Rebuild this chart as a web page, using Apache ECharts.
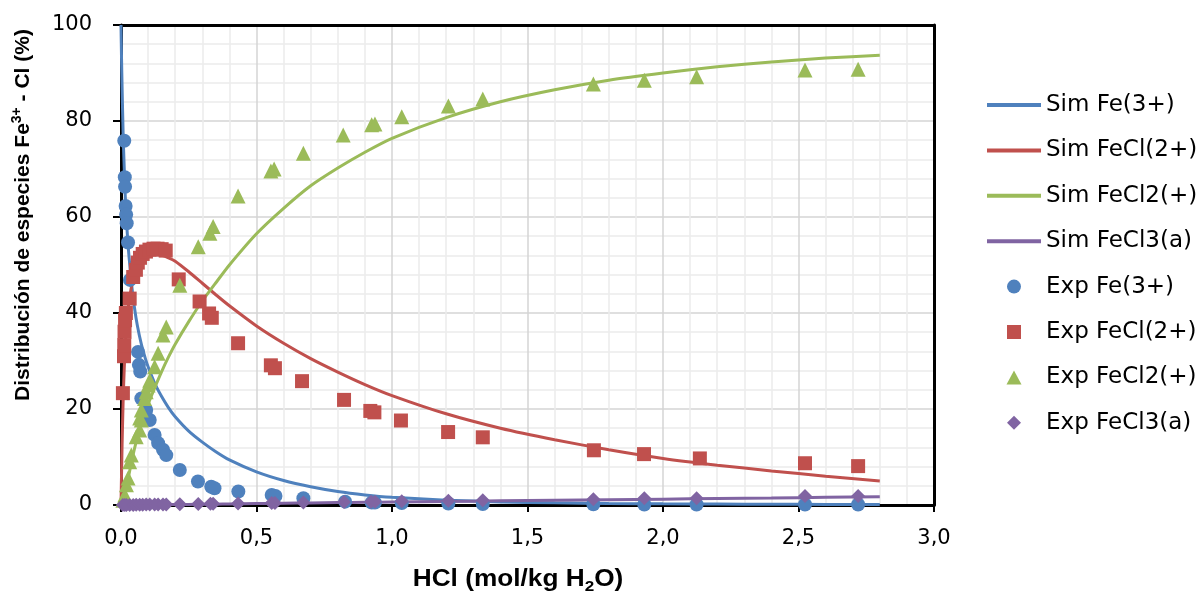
<!DOCTYPE html>
<html>
<head>
<meta charset="utf-8">
<script src="https://cdn.jsdelivr.net/npm/echarts@6/dist/echarts.min.js"></script>
<style>
  html, body { margin: 0; padding: 0; background: #fff; }
  #chart { width: 1204px; height: 605px; }
</style>
</head>
<body>
<div id="chart"></div>
<script>
// Simulated speciation (% of Fe3+) versus HCl molality
const simHCl = [0, 0.002, 0.004, 0.008, 0.012, 0.016, 0.02, 0.025, 0.03, 0.04, 0.05, 0.06, 0.075, 0.09, 0.1, 0.125, 0.15, 0.175, 0.2, 0.25, 0.3, 0.35, 0.4, 0.5, 0.6, 0.7, 0.8, 0.9, 1.0, 1.2, 1.4, 1.6, 1.8, 2.0, 2.2, 2.4, 2.6, 2.8];
const simFe3   = [100, 93, 87, 77, 70, 64, 59.5, 55, 51.5, 45.5, 41, 37.5, 33.5, 30.5, 28.8, 25.3, 22.6, 20.3, 18.4, 15.4, 13.1, 11.1, 9.4, 6.9, 5.1, 3.8, 2.8, 2.1, 1.6, 1.0, 0.65, 0.45, 0.32, 0.25, 0.2, 0.16, 0.13, 0.11];
const simFeCl  = [0, 6.5, 12.5, 22, 28.5, 33.5, 37, 40.2, 42.5, 45.8, 47.8, 49.3, 50.7, 51.5, 51.8, 52.1, 52.0, 51.5, 50.8, 48.6, 46.2, 43.8, 41.5, 37.3, 33.7, 30.5, 27.7, 25.1, 22.8, 19.0, 16.0, 13.6, 11.5, 9.7, 8.3, 7.1, 6.0, 5.0];
const simFeCl2 = [0, 0.07, 0.25, 0.8, 1.6, 2.6, 3.7, 5.1, 6.5, 9.3, 11.8, 14.0, 17.0, 19.5, 21.0, 24.5, 27.8, 30.8, 33.5, 38.2, 42.5, 46.3, 50.0, 56.5, 61.8, 66.5, 70.2, 73.5, 76.4, 80.7, 84.0, 86.5, 88.5, 90.0, 91.3, 92.3, 93.1, 93.7];
const simFeCl3 = [0, 0, 0, 0, 0, 0, 0, 0, 0.01, 0.01, 0.02, 0.02, 0.03, 0.04, 0.05, 0.06, 0.07, 0.08, 0.1, 0.12, 0.15, 0.18, 0.22, 0.3, 0.37, 0.44, 0.5, 0.56, 0.62, 0.74, 0.86, 0.98, 1.1, 1.22, 1.34, 1.45, 1.6, 1.73];

// Experimental points: [HCl molality, % of species]
const expFe3 = [[0.012,75.9],[0.014,68.3],[0.015,66.3],[0.017,62.3],[0.019,60.5],[0.021,58.7],[0.026,54.7],[0.033,46.9],[0.063,31.9],[0.066,29.2],[0.071,27.8],[0.075,22.2],[0.093,19.8],[0.106,17.7],[0.124,14.6],[0.137,12.9],[0.155,11.5],[0.167,10.4],[0.217,7.3],[0.284,4.9],[0.333,3.8],[0.345,3.5],[0.433,2.8],[0.556,2.1],[0.570,1.9],[0.673,1.4],[0.827,0.7],[0.925,0.5],[0.937,0.5],[1.036,0.4],[1.208,0.3],[1.335,0.2],[1.743,0.15],[1.931,0.1],[2.124,0.1],[2.524,0.1],[2.720,0.1]];
const expFeCl = [[0.007,23.3],[0.011,31.0],[0.012,33.3],[0.013,36.1],[0.015,38.5],[0.018,40.0],[0.032,43.0],[0.045,47.5],[0.055,49.0],[0.062,50.5],[0.070,51.5],[0.080,52.3],[0.092,52.8],[0.105,53.2],[0.120,53.4],[0.135,53.4],[0.150,53.3],[0.165,53.0],[0.213,47.0],[0.290,42.4],[0.325,39.9],[0.335,39.0],[0.432,33.7],[0.553,29.1],[0.568,28.5],[0.668,25.8],[0.823,21.9],[0.920,19.6],[0.935,19.3],[1.033,17.6],[1.207,15.2],[1.335,14.1],[1.745,11.4],[1.930,10.6],[2.136,9.7],[2.524,8.7],[2.720,8.1]];
const expFeCl2 = [[0.007,1.0],[0.014,2.1],[0.020,4.2],[0.026,5.6],[0.032,9.0],[0.038,10.4],[0.056,14.2],[0.069,15.6],[0.069,18.1],[0.075,17.7],[0.075,19.8],[0.087,22.2],[0.093,23.6],[0.100,25.0],[0.106,26.0],[0.124,28.8],[0.137,31.6],[0.155,35.4],[0.167,37.1],[0.217,45.8],[0.285,53.8],[0.328,56.6],[0.340,58.0],[0.432,64.4],[0.553,69.6],[0.565,70.0],[0.673,73.3],[0.820,77.1],[0.925,79.2],[0.937,79.4],[1.036,80.9],[1.208,83.1],[1.335,84.6],[1.743,87.7],[1.931,88.5],[2.124,89.2],[2.524,90.6],[2.720,90.8]];
const expFeCl3 = [[0.007,0],[0.014,0],[0.020,0],[0.032,0],[0.045,0],[0.056,0.05],[0.069,0.05],[0.080,0.05],[0.093,0.1],[0.106,0.1],[0.124,0.1],[0.137,0.1],[0.155,0.1],[0.167,0.1],[0.217,0.15],[0.285,0.2],[0.330,0.25],[0.340,0.25],[0.432,0.3],[0.556,0.4],[0.568,0.4],[0.673,0.5],[0.823,0.6],[0.923,0.7],[0.937,0.7],[1.036,0.8],[1.208,0.9],[1.335,1.0],[1.743,1.2],[1.931,1.4],[2.124,1.4],[2.524,1.85],[2.720,1.9]];

const speciesNames = ['Fe(3+)', 'FeCl(2+)', 'FeCl2(+)', 'FeCl3(a)'];
const colors = ['#4F81BD', '#C0504D', '#9BBB59', '#8064A2'];
const simSets = [simFe3, simFeCl, simFeCl2, simFeCl3];
const expSets = [expFe3, expFeCl, expFeCl2, expFeCl3];
const expSymbols = ['circle', 'rect', 'triangle', 'diamond'];
const expSizes = [14, 14, 15, 14];

// Legend icons sit in a 54x14 box; the leading moves pin the box so the marker keeps its shape.
const BOX = 'path://M0,0 M54,14 ';
const legendIcons = [
  'circle',
  BOX + 'M20,0 H34 V14 H20 Z',
  BOX + 'M27,0 L34.5,14 L19.5,14 Z',
  BOX + 'M27,0 L34,7 L27,14 L20,7 Z'
];

const FONT = '"DejaVu Sans", "Liberation Sans", Arial, sans-serif';
const TITLE_FONT = '"Liberation Sans", Arial, sans-serif';
const chart = echarts.init(document.getElementById('chart'), null, { renderer: 'canvas' });

const series = [];
const legendData = [];
simSets.forEach((ys, i) => {
  const name = 'Sim ' + speciesNames[i];
  series.push({
    name: name,
    type: 'line',
    data: simHCl.map((x, k) => [x, ys[k]]),
    symbol: 'none',
    smooth: 0.2,
    lineStyle: { color: colors[i], width: 3 },
    itemStyle: { color: colors[i], borderWidth: 0 },
    z: 3
  });
  legendData.push({ name: name, icon: 'path://M0,0 H54 V4 H0 Z' });
});
expSets.forEach((pts, i) => {
  const name = 'Exp ' + speciesNames[i];
  series.push({
    name: name,
    type: 'scatter',
    data: pts,
    symbol: expSymbols[i],
    symbolSize: expSizes[i],
    itemStyle: { color: colors[i], opacity: 1 },
    z: 4
  });
  legendData.push({ name: name, icon: legendIcons[i] });
});

const option = {
  animation: false,
  backgroundColor: '#ffffff',
  textStyle: { fontFamily: FONT },
  grid: { left: 121, top: 25, width: 813, height: 480, containLabel: false },
  xAxis: [{
    type: 'value', min: 0, max: 3, interval: 0.5,
    axisLine: { show: true, onZero: false, lineStyle: { color: '#000', width: 3 } },
    axisTick: { show: true, length: 7, lineStyle: { color: '#000', width: 2 } },
    axisLabel: { fontSize: 21, color: '#000', fontFamily: FONT, margin: 23,
      formatter: v => v.toFixed(1).replace('.', ',') },
    splitLine: { show: true, showMinLine: false, showMaxLine: false, lineStyle: { color: '#d4d4d4', width: 1.5 } },
    minorTick: { show: false, splitNumber: 5 },
    minorSplitLine: { show: true, lineStyle: { color: '#ececec', width: 1.5 } }
  }, {
    type: 'value', min: 0, max: 3, position: 'top',
    axisLine: { show: true, onZero: false, lineStyle: { color: '#000', width: 3 } },
    axisTick: { show: false }, axisLabel: { show: false }, splitLine: { show: false }
  }],
  yAxis: [{
    type: 'value', min: 0, max: 100, interval: 20,
    axisLine: { show: true, onZero: false, lineStyle: { color: '#000', width: 3 } },
    axisTick: { show: true, length: 8, lineStyle: { color: '#000', width: 2 } },
    axisLabel: { fontSize: 21, color: '#000', fontFamily: FONT, margin: 29 },
    splitLine: { show: true, showMinLine: false, showMaxLine: false, lineStyle: { color: '#d4d4d4', width: 1.5 } },
    minorTick: { show: false, splitNumber: 5 },
    minorSplitLine: { show: true, lineStyle: { color: '#ececec', width: 1.5 } }
  }, {
    type: 'value', min: 0, max: 100, position: 'right',
    axisLine: { show: true, onZero: false, lineStyle: { color: '#000', width: 3 } },
    axisTick: { show: false }, axisLabel: { show: false }, splitLine: { show: false }
  }],
  legend: {
    orient: 'vertical',
    left: 982, top: 88.5,
    itemWidth: 54, itemHeight: 14, itemGap: 22.4,
    symbolKeepAspect: true,
    itemStyle: { borderWidth: 0 },
    textStyle: { fontSize: 23, color: '#000', fontFamily: FONT },
    data: legendData
  },
  graphic: [{
    type: 'text',
    x: 23, y: 215, rotation: Math.PI / 2,
    style: {
      text: '{b|Distribución de especies Fe}{s|3+}{b| - Cl (%)}',
      align: 'center', verticalAlign: 'middle',
      rich: {
        b: { fontSize: 21, fontWeight: 'bold', fontFamily: TITLE_FONT, fill: '#000', lineHeight: 25 },
        s: { fontSize: 14, fontWeight: 'bold', fontFamily: TITLE_FONT, fill: '#000', lineHeight: 14, verticalAlign: 'top' }
      }
    }
  }, {
    type: 'text',
    x: 518, y: 580, scaleX: 1.14,
    style: {
      text: '{b|HCl (mol/kg H}{s|2}{b|O)}',
      align: 'center', verticalAlign: 'middle',
      rich: {
        b: { fontSize: 23, fontWeight: 'bold', fontFamily: TITLE_FONT, fill: '#000', lineHeight: 28 },
        s: { fontSize: 15, fontWeight: 'bold', fontFamily: TITLE_FONT, fill: '#000', lineHeight: 15, verticalAlign: 'bottom' }
      }
    }
  }],
  series: series
};

chart.setOption(option);
</script>
</body>
</html>
